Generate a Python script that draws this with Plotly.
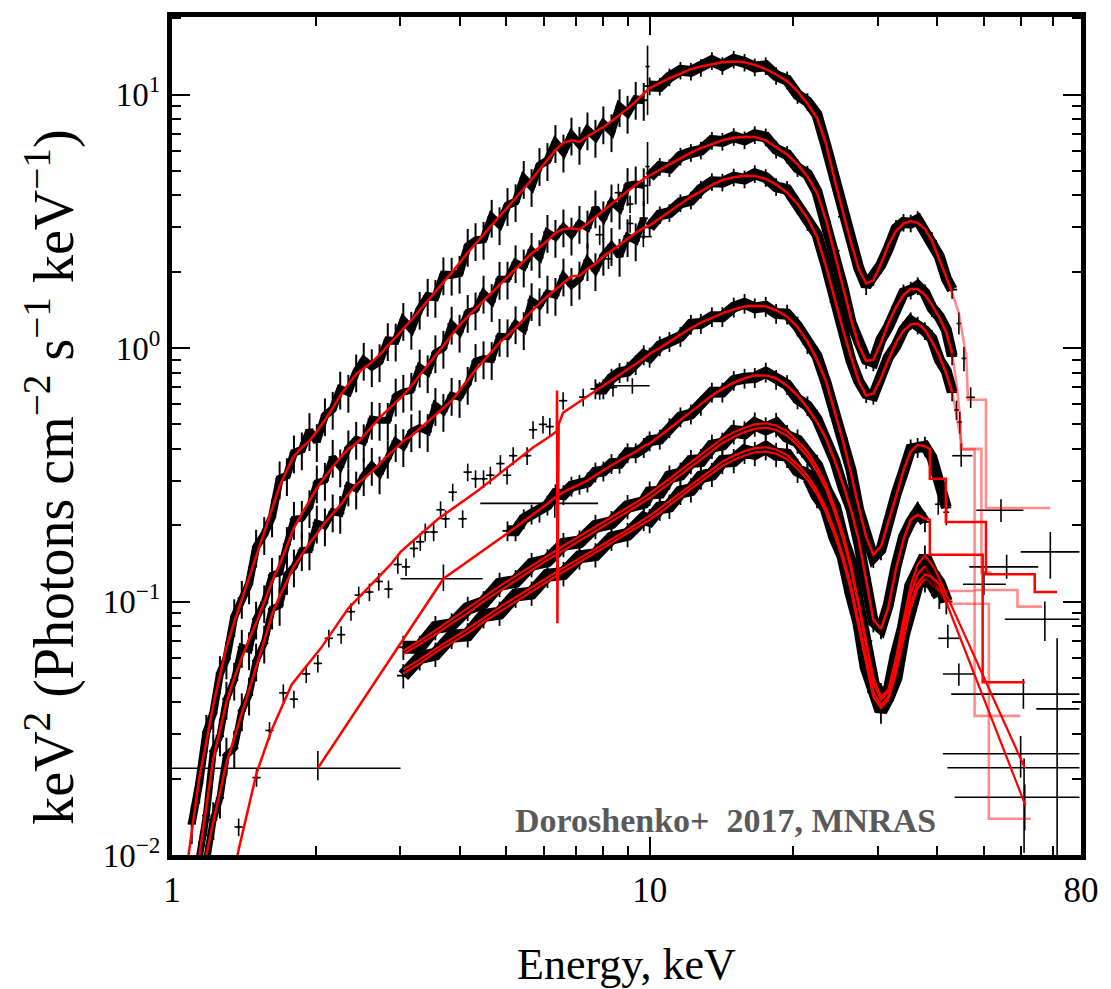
import math
import plotly.graph_objects as go

# ---------------- energy grids (keV) ----------------
E_soft = [1.10, 1.14, 1.18, 1.22, 1.26, 1.30, 1.35, 1.40, 1.45, 1.50, 1.56, 1.62, 1.68, 1.74, 1.80,
          1.87, 1.94, 2.01, 2.09, 2.17, 2.25, 2.34, 2.43, 2.52, 2.62, 2.72, 2.83, 2.94, 3.05, 3.17,
          3.30, 3.43, 3.56, 3.70, 3.85, 4.00, 4.16, 4.32, 4.49, 4.67, 4.85, 5.04, 5.24, 5.45, 5.66,
          5.88, 6.11, 6.35, 6.60, 6.86, 7.13, 7.41, 7.70, 8.00, 8.32, 8.65, 8.99, 9.35, 9.72]
E_hard = [10.0, 10.5, 11.0, 11.6, 12.2, 12.8, 13.5, 14.2, 15.0, 15.8, 16.6, 17.5, 18.4, 19.4, 20.4,
          21.4, 22.4, 23.4, 24.4, 25.4, 26.4, 27.4, 28.4, 29.4, 30.5, 31.6, 32.8, 34.0, 35.2, 36.4,
          37.7, 39.0, 40.4, 41.8, 43.0]
E_bot_soft = [3.05, 3.30, 3.56, 3.85, 4.16, 4.49, 4.85, 5.24, 5.66, 6.11, 6.60, 7.13, 7.70, 8.32, 8.99, 9.72]

# ---------------- spectrum 1 (top) ----------------
m1_soft = [0.0125, 0.020, 0.028, 0.039, 0.051, 0.066, 0.083, 0.102, 0.125, 0.152, 0.19, 0.235, 0.285, 0.33, 0.375,
           0.405, 0.43, 0.47, 0.52, 0.58, 0.65, 0.72, 0.79, 0.83, 0.88, 0.94, 1.02, 1.10, 1.18, 1.29,
           1.41, 1.54, 1.67, 1.82, 1.98, 2.17, 2.38, 2.58, 2.80, 3.04, 3.30, 3.58, 3.90, 4.25, 4.62,
           5.05, 5.55, 6.05, 6.45, 6.6, 6.5, 6.85, 7.15, 7.45, 7.85, 8.3, 8.8, 9.4, 10.1]
d1_soft = [0.0133, 0.0192, 0.0305, 0.0363, 0.052, 0.0594, 0.0872, 0.103, 0.1175, 0.164, 0.184, 0.216, 0.305, 0.314, 0.386,
           0.397, 0.473, 0.428, 0.541, 0.574, 0.689, 0.67, 0.806, 0.896, 0.845, 0.884, 1.071, 1.067, 1.286, 1.187,
           1.424, 1.602, 1.587, 1.947, 1.94, 1.975, 2.523, 2.657, 2.688, 3.283, 3.069, 3.652, 3.783, 4.675, 4.343,
           5.252, 5.495, 6.474, 5.934, 6.93, 6.37, 7.261, 6.793, 7.674, 7.144, 8.964, 8.448, 9.588, 9.494]
m1_hard = [10.6, 11.1, 11.6, 12.1, 12.6, 12.9, 13.2, 13.4, 13.5, 13.4, 13.1, 12.6, 12.0, 11.3, 10.3,
           9.2, 8.1, 6.4, 4.6, 3.4, 2.6, 2.05, 1.8, 1.85, 2.15, 2.55, 2.9, 3.1, 3.17, 3.12,
           2.95, 2.65, 2.25, 1.9, 1.65]
d1_hard = [10.81, 10.77, 11.72, 12.46, 12.35, 12.77, 13.6, 13.0, 13.77, 13.4, 12.84, 12.98, 11.88, 11.41, 9.99,
           9.38, 8.34, 6.27, 4.6, 3.3, 2.65, 2.07, 1.76, 1.91, 2.13, 2.47, 2.96, 3.13, 3.11, 3.21,
           2.86, 2.65, 2.3, 1.88, 1.7]
m1_start = (1.07, 0.0085)
m1_tail_E = [43.0, 44.4, 46.0, 46.4, 50.6, 50.6, 69.0]
m1_tail_F = [1.65, 1.37, 0.93, 0.625, 0.625, 0.234, 0.234]

# ---------------- spectrum 2 ----------------
m2_soft = [0.010, 0.0155, 0.024, 0.031, 0.040, 0.05, 0.06, 0.071, 0.082, 0.10, 0.12, 0.14, 0.165, 0.195, 0.222,
           0.25, 0.28, 0.31, 0.34, 0.37, 0.40, 0.42, 0.45, 0.49, 0.53, 0.57, 0.61, 0.65, 0.71, 0.78,
           0.86, 0.94, 1.03, 1.13, 1.23, 1.33, 1.43, 1.54, 1.66, 1.78, 1.91, 2.05, 2.2, 2.36, 2.5,
           2.65, 2.85, 2.95, 2.97, 2.93, 3.1, 3.28, 3.48, 3.7, 3.93, 4.17, 4.4, 4.65]
d2_soft = [0.0097, 0.0143, 0.0257, 0.0295, 0.0412, 0.049, 0.066, 0.0646, 0.0853, 0.099, 0.127, 0.130, 0.168, 0.211, 0.213,
           0.235, 0.294, 0.301, 0.371, 0.340, 0.404, 0.437, 0.4275, 0.524, 0.519, 0.519, 0.647, 0.67, 0.682, 0.842,
           0.80, 0.959, 0.999, 1.243, 1.156, 1.383, 1.416, 1.648, 1.527, 1.869, 1.872, 2.173, 2.09, 2.431, 2.275,
           2.862, 2.736, 3.009, 2.792, 3.106, 2.976, 3.575, 3.236, 3.774, 3.537, 4.379, 4.444, 4.371]
m2_hard = [4.78, 5.05, 5.3, 5.6, 5.9, 6.15, 6.4, 6.6, 6.75, 6.82, 6.8, 6.6, 6.2, 5.8, 5.3,
           4.75, 4.1, 3.2, 2.35, 1.75, 1.3, 1.02, 0.89, 0.9, 1.05, 1.25, 1.45, 1.62, 1.71, 1.71,
           1.62, 1.48, 1.32, 1.15, 0.95]
d2_hard = [4.73, 5.2, 5.14, 5.71, 5.9, 6.03, 6.59, 6.53, 6.82, 6.62, 6.94, 6.8, 6.08, 5.8, 5.14,
           4.85, 4.14, 3.14, 2.42, 1.73, 1.26, 1.04, 0.9, 0.88, 1.08, 1.21, 1.45, 1.65, 1.69, 1.76,
           1.65, 1.44, 1.33, 1.18, 0.93]
m2_start = (1.12, 0.0078)
m2_tail_E = [43.0, 44.0, 44.8, 44.8, 47.9, 47.9, 58.9, 58.9, 66.3]
m2_tail_F = [0.95, 0.7, 0.5, 0.398, 0.398, 0.111, 0.111, 0.0955, 0.0955]

# ---------------- spectrum 3 ----------------
m3_soft = [0.010, 0.0135, 0.0175, 0.023, 0.029, 0.036, 0.045, 0.055, 0.070, 0.089, 0.105, 0.12, 0.138, 0.153, 0.17,
           0.185, 0.205, 0.222, 0.24, 0.265, 0.29, 0.305, 0.325, 0.35, 0.375, 0.40, 0.43, 0.45, 0.48, 0.51,
           0.545, 0.58, 0.62, 0.68, 0.75, 0.82, 0.89, 0.97, 1.05, 1.12, 1.2, 1.3, 1.4, 1.5, 1.6,
           1.7, 1.8, 1.92, 1.93, 2.05, 2.15, 2.3, 2.42, 2.56, 2.7, 2.85, 2.98]
d3_soft = [0.0094, 0.0138, 0.0168, 0.0248, 0.0264, 0.0371, 0.0428, 0.0583, 0.0686, 0.0935, 0.0966, 0.128, 0.137, 0.159, 0.160,
           0.204, 0.199, 0.226, 0.223, 0.286, 0.278, 0.314, 0.345, 0.319, 0.368, 0.428, 0.409, 0.468, 0.485, 0.469,
           0.594, 0.563, 0.651, 0.639, 0.72, 0.886, 0.908, 0.902, 1.113, 1.109, 1.248, 1.183, 1.54, 1.47, 1.648,
           1.615, 1.926, 1.766, 1.872, 2.214, 2.021, 2.323, 2.541, 2.304, 2.754, 2.651, 3.248]
m3_hard = [3.05, 3.25, 3.45, 3.7, 3.95, 4.15, 4.4, 4.6, 4.72, 4.78, 4.77, 4.65, 4.42, 4.1, 3.7,
           3.25, 2.75, 2.1, 1.55, 1.18, 0.92, 0.74, 0.65, 0.66, 0.76, 0.9, 1.05, 1.17, 1.24, 1.25,
           1.18, 1.06, 0.93, 0.79, 0.67]
d3_hard = [2.99, 3.35, 3.42, 3.74, 3.83, 4.23, 4.53, 4.51, 4.72, 4.64, 4.87, 4.7, 4.33, 4.22, 3.66,
           3.15, 2.81, 2.12, 1.52, 1.22, 0.89, 0.74, 0.66, 0.65, 0.78, 0.92, 1.02, 1.18, 1.28, 1.23,
           1.17, 1.09, 0.9, 0.81, 0.67]
m3_start = (1.16, 0.0078)
m3_tail_E = [43.0, 44.6, 45.2, 49.5, 49.5, 52.0]
m3_tail_F = [0.67, 0.45, 0.40, 0.40, 0.13, 0.13]

# ---------------- spectrum 4 ----------------
m4_low_E = [1.36, 1.379, 1.503, 1.615, 1.78, 2.05, 2.34, 2.87, 3.01, 3.6, 4.38, 5.0, 5.7, 6.2, 6.39,
            6.40, 6.41, 6.45, 6.59, 7.0, 7.70, 8.00, 8.32, 8.65, 8.99, 9.35, 9.72]
m4_low_F = [0.0092, 0.0105, 0.021, 0.031, 0.047, 0.0655, 0.094, 0.14, 0.157, 0.211, 0.275, 0.335, 0.405, 0.45, 0.47,
            0.68, 0.082, 0.50, 0.556, 0.6, 0.677, 0.71, 0.748, 0.785, 0.826, 0.87, 0.91]
m4_hard = [0.95, 1.0, 1.06, 1.13, 1.2, 1.26, 1.32, 1.37, 1.42, 1.46, 1.47, 1.46, 1.41, 1.33, 1.21,
           1.06, 0.9, 0.74, 0.56, 0.43, 0.32, 0.235, 0.18, 0.153, 0.165, 0.205, 0.26, 0.33, 0.39, 0.415,
           0.41]
m4_tail_E = [38.6, 38.6, 41.7, 41.7, 50.6, 50.6, 64.0, 64.0, 71.3]
m4_tail_F = [0.40, 0.305, 0.305, 0.206, 0.206, 0.128, 0.128, 0.109, 0.109]
d4_sparse_E = [1.379, 1.503, 1.60, 1.71, 1.80, 1.91, 2.02, 2.13, 2.26, 2.37, 2.46, 2.59, 2.71, 2.84, 2.97,
               3.09, 3.21, 3.31, 3.39, 3.53, 3.65, 3.74, 3.87, 4.06, 4.16, 4.32, 4.49, 4.64, 4.87, 5.03,
               5.18, 5.54, 5.70, 5.98, 6.18, 6.59, 7.26, 7.86, 8.38]
d4_sparse_F = [0.0129, 0.0202, 0.031, 0.0436, 0.0412, 0.0518, 0.057, 0.0716, 0.074, 0.0912, 0.106, 0.109, 0.12, 0.112, 0.14,
               0.137, 0.162, 0.172, 0.188, 0.188, 0.23, 0.212, 0.27, 0.212, 0.324, 0.305, 0.305, 0.315, 0.35, 0.315,
               0.376, 0.376, 0.476, 0.5, 0.49, 0.62, 0.64, 0.68, 0.70]
d4_dense_E_low = [7.70, 8.00, 8.32, 8.65, 8.99, 9.35, 9.72]
d4_dense_F_low = [0.69, 0.69, 0.76, 0.80, 0.81, 0.86, 0.94]
d4_hard = [0.92, 1.02, 1.06, 1.11, 1.24, 1.25, 1.33, 1.33, 1.45, 1.5, 1.44, 1.46, 1.37, 1.36, 1.22,
           1.04, 0.93, 0.73, 0.54, 0.44, 0.33, 0.23, 0.185, 0.149, 0.16, 0.209, 0.265, 0.325, 0.40, 0.405,
           0.41, 0.37, 0.30, 0.235]

# ---------------- spectrum 5 ----------------
m5_low_E = [2.02, 3.7, 5.04, 5.24, 5.45, 5.66, 5.88, 6.11, 6.35, 6.60, 6.86, 7.13, 7.41, 7.70, 8.00,
            8.32, 8.65, 8.99, 9.35, 9.72]
m5_low_F = [0.022, 0.123, 0.186, 0.196, 0.207, 0.218, 0.23, 0.243, 0.258, 0.27, 0.28, 0.29, 0.30, 0.315, 0.33,
            0.345, 0.36, 0.375, 0.39, 0.41]
m5_hard = [0.42, 0.45, 0.48, 0.52, 0.56, 0.6, 0.65, 0.69, 0.73, 0.76, 0.78, 0.78, 0.76, 0.71, 0.65,
           0.58, 0.51, 0.44, 0.36, 0.29, 0.23, 0.175, 0.12, 0.085, 0.078, 0.095, 0.135, 0.175, 0.21, 0.22,
           0.212]
m5_tail_E = [38.6, 38.6, 49.8, 49.8, 61.0]
m5_tail_F = [0.21, 0.153, 0.153, 0.048, 0.048]
d5_low_E = [5.04, 5.24, 5.45, 5.66, 5.88, 6.11, 6.35, 6.60, 6.86, 7.13, 7.41, 7.70, 8.00, 8.32, 8.65,
            8.99, 9.35, 9.72]
d5_low_F = [0.19, 0.19, 0.212, 0.221, 0.225, 0.24, 0.266, 0.264, 0.285, 0.29, 0.296, 0.324, 0.327, 0.35, 0.351,
            0.386, 0.386, 0.405]
d5_hard = [0.43, 0.437, 0.485, 0.535, 0.549, 0.594, 0.669, 0.67, 0.745, 0.76, 0.765, 0.803, 0.752, 0.717, 0.63,
           0.592, 0.525, 0.431, 0.36, 0.281, 0.232, 0.17, 0.123, 0.083, 0.078, 0.097, 0.138, 0.18, 0.206, 0.227,
           0.206]

# ---------------- bottom group (4 spectra) ----------------
m6a_soft = [0.064, 0.070, 0.077, 0.085, 0.094, 0.104, 0.115, 0.126, 0.139, 0.152, 0.166, 0.181, 0.197, 0.215, 0.235, 0.257]
m6a_hard = [0.267, 0.285, 0.305, 0.33, 0.355, 0.38, 0.41, 0.44, 0.465, 0.485, 0.5, 0.505, 0.495, 0.47, 0.43,
            0.39, 0.34, 0.29, 0.235, 0.185, 0.14, 0.10, 0.07, 0.05, 0.042, 0.045, 0.06, 0.085, 0.115, 0.14, 0.152]
m6a_tail_E = [39.5, 61.0]
m6a_tail_F = [0.135, 0.0221]
m6b_soft = [0.062, 0.068, 0.074, 0.082, 0.090, 0.10, 0.11, 0.121, 0.133, 0.146, 0.159, 0.174, 0.19, 0.207, 0.226, 0.247]
m6b_hard = [0.256, 0.274, 0.293, 0.317, 0.341, 0.365, 0.394, 0.422, 0.446, 0.466, 0.48, 0.485, 0.475, 0.451, 0.413,
            0.374, 0.326, 0.278, 0.225, 0.177, 0.134, 0.096, 0.067, 0.048, 0.041, 0.044, 0.058, 0.08, 0.107, 0.128, 0.138]
m6b_tail_E = [41.9, 51.3, 51.3, 62.8]
m6b_tail_F = [0.098, 0.098, 0.0139, 0.0139]
m6c_soft = [0.054, 0.059, 0.065, 0.071, 0.078, 0.086, 0.095, 0.104, 0.114, 0.125, 0.136, 0.148, 0.161, 0.176, 0.192, 0.211]
m6c_hard = [0.218, 0.233, 0.249, 0.269, 0.289, 0.309, 0.333, 0.356, 0.376, 0.392, 0.403, 0.406, 0.398, 0.378, 0.347,
            0.314, 0.275, 0.234, 0.19, 0.151, 0.115, 0.083, 0.059, 0.044, 0.039, 0.042, 0.054, 0.074, 0.098, 0.118, 0.128]
m6c_tail_E = [39.0, 40.4, 61.2]
m6c_tail_F = [0.125, 0.117, 0.0157]
m6d_soft = [0.052, 0.057, 0.063, 0.069, 0.075, 0.083, 0.091, 0.10, 0.11, 0.12, 0.131, 0.143, 0.155, 0.17, 0.185, 0.203]
m6d_hard = [0.21, 0.224, 0.24, 0.259, 0.278, 0.297, 0.32, 0.343, 0.362, 0.377, 0.388, 0.39, 0.383, 0.364, 0.334,
            0.302, 0.265, 0.225, 0.183, 0.145, 0.11, 0.08, 0.057, 0.042, 0.038, 0.041, 0.052, 0.071, 0.094, 0.113, 0.123]
m6d_tail_E = [40.4, 47.9, 47.9, 59.7]
m6d_tail_F = [0.11, 0.11, 0.0354, 0.0354]
dbU_soft = [0.066, 0.066, 0.079, 0.081, 0.094, 0.099, 0.117, 0.12, 0.14, 0.145, 0.168, 0.172, 0.198, 0.205, 0.237, 0.246]
dbU_hard = [0.268, 0.27, 0.31, 0.318, 0.357, 0.36, 0.41, 0.418, 0.468, 0.463, 0.502, 0.48, 0.5, 0.448, 0.43,
            0.372, 0.342, 0.275, 0.236, 0.174, 0.141, 0.094, 0.07, 0.047, 0.043, 0.043, 0.061, 0.079, 0.115, 0.128,
            0.15, 0.13, 0.118, 0.1]
dbL_soft = [0.051, 0.06, 0.062, 0.073, 0.074, 0.088, 0.09, 0.106, 0.108, 0.127, 0.129, 0.15, 0.153, 0.178, 0.184, 0.213]
dbL_hard = [0.209, 0.234, 0.238, 0.27, 0.276, 0.31, 0.318, 0.357, 0.36, 0.392, 0.384, 0.405, 0.381, 0.378, 0.33,
            0.315, 0.262, 0.234, 0.18, 0.151, 0.108, 0.083, 0.055, 0.044, 0.037, 0.042, 0.05, 0.074, 0.092, 0.118,
            0.122, 0.118, 0.105]

# ---------------- individual wide-bin points (E, F, E_lo, E_hi, F_lo, F_hi) ----------------
pt_E   = [54.4, 69.0, 55.9, 50.1, 67.2, 71.3, 60.6, 59.8, 60.8, 61.0, 44.4, 42.1, 44.9, 47.0, 41.8, 40.2,
          44.4, 45.5, 44.6, 43.9, 9.2, 9.9, 9.9, 9.7, 9.1, 9.1, 8.6, 7.86, 8.2, 2.02, 3.7, 6.33]
pt_F   = [0.229, 0.157, 0.137, 0.117, 0.0851, 0.0377, 0.0431, 0.0251, 0.0221, 0.0169, 0.0518, 0.0716, 0.376, 0.639, 0.225, 0.242,
          1.25, 0.91, 0.51, 0.57, 0.71, 12.9, 5.2, 2.75, 3.7, 3.1, 4.1, 2.8, 2.25, 0.022, 0.123, 0.244]
pt_Elo = [48.3, 59.8, 46.7, 45.3, 55.4, 64.5, 42.8, 41.1, 42.0, 43.5, 41.1, 40.2, 43.0, 46.0, 41.2, 39.6,
          43.9, 45.0, 44.1, 43.4, 8.4, 9.8, 9.8, 9.2, 8.95, 8.95, 8.45, 7.7, 8.05, 1.0, 3.01, 4.42]
pt_Ehi = [60.6, 79.4, 65.1, 55.7, 79.4, 79.4, 79.4, 79.4, 79.4, 79.4, 47.9, 44.5, 47.4, 48.0, 42.4, 40.8,
          44.9, 46.0, 45.1, 44.4, 10.0, 10.0, 10.0, 10.1, 9.25, 9.25, 8.75, 8.0, 8.35, 3.01, 4.47, 7.8]
pt_Flo = [0.206, 0.123, 0.123, 0.106, 0.0698, 0.005, 0.0377, 0.0202, 0.0102, 0.0125, 0.0465, 0.0655, 0.34, 0.58, 0.20, 0.22,
          1.13, 0.81, 0.46, 0.52, 0.66, 8.3, 3.7, 2.5, 3.4, 2.85, 3.75, 2.55, 2.05, 0.0197, 0.11, 0.214]
pt_Fhi = [0.253, 0.188, 0.153, 0.131, 0.10, 0.0716, 0.0495, 0.0295, 0.024, 0.019, 0.057, 0.081, 0.42, 0.70, 0.25, 0.265,
          1.38, 1.01, 0.56, 0.62, 0.76, 15.6, 6.5, 3.0, 4.0, 3.35, 4.45, 3.05, 2.45, 0.0257, 0.14, 0.277]

SERIF = "Liberation Serif"
RED = "#ff0000"
FAINT = "rgba(255,0,0,0.45)"

fig = go.Figure()


def data_trace(E, F, ypct, xpct, band=0, thick=1.8):
    mode = "lines+markers" if band else "markers"
    return go.Scatter(
        x=E, y=F, mode=mode, hoverinfo="skip",
        line=dict(color="black", width=band if band else 1),
        marker=dict(size=3, color="black"),
        error_y=dict(type="percent", value=ypct, width=0, thickness=thick, color="black"),
        error_x=dict(type="percent", value=xpct, width=0, thickness=thick, color="black"),
    )


def line_trace(E, F, color=RED, width=2.5):
    return go.Scatter(x=E, y=F, mode="lines", hoverinfo="skip",
                      line=dict(color=color, width=width))


# data (black crosses)
fig.add_trace(data_trace(E_soft, d1_soft, 17, 2.0, band=8, thick=2.0))
fig.add_trace(data_trace(E_hard, d1_hard, 8, 2.4, band=11))
fig.add_trace(data_trace(E_soft[1:], d2_soft, 17, 2.0, band=7, thick=2.0))
fig.add_trace(data_trace(E_hard, d2_hard, 8, 2.4, band=11))
fig.add_trace(data_trace(E_soft[2:], d3_soft, 17, 2.0, band=7, thick=2.0))
fig.add_trace(data_trace(E_hard, d3_hard, 8, 2.4, band=11))
fig.add_trace(data_trace(d4_sparse_E, d4_sparse_F, 8, 2.0, thick=1.6))
fig.add_trace(data_trace(d4_dense_E_low + E_hard[:34], d4_dense_F_low + d4_hard, 9, 2.4, band=11))
fig.add_trace(data_trace(d5_low_E + E_hard[:31], d5_low_F + d5_hard, 9, 2.4, band=11))
fig.add_trace(data_trace(E_bot_soft + E_hard[:34], dbU_soft + dbU_hard, 11, 3.0, band=13))
fig.add_trace(data_trace(E_bot_soft + E_hard[:33], dbL_soft + dbL_hard, 11, 3.0, band=13))
fig.add_trace(go.Scatter(
    x=pt_E, y=pt_F, mode="markers", hoverinfo="skip",
    marker=dict(size=2, color="black"),
    error_x=dict(type="data", symmetric=False,
                 array=[h - e for h, e in zip(pt_Ehi, pt_E)],
                 arrayminus=[e - l for e, l in zip(pt_E, pt_Elo)],
                 width=0, thickness=1.6, color="black"),
    error_y=dict(type="data", symmetric=False,
                 array=[h - f for h, f in zip(pt_Fhi, pt_F)],
                 arrayminus=[f - l for f, l in zip(pt_F, pt_Flo)],
                 width=0, thickness=1.6, color="black"),
))

# faint model continuations
fig.add_trace(line_trace(m1_tail_E, m1_tail_F, FAINT, 2.6))
fig.add_trace(line_trace(m2_tail_E, m2_tail_F, FAINT, 2.6))
fig.add_trace(line_trace(m3_tail_E, m3_tail_F, FAINT, 2.6))
fig.add_trace(line_trace([37.7] + m6b_tail_E, [0.138] + m6b_tail_F, FAINT, 2.6))
fig.add_trace(line_trace([37.7] + m6d_tail_E, [0.123] + m6d_tail_F, FAINT, 2.6))

# models (red)
fig.add_trace(line_trace([m1_start[0]] + E_soft + E_hard, [m1_start[1]] + m1_soft + m1_hard))
fig.add_trace(line_trace([m2_start[0]] + E_soft[1:] + E_hard, [m2_start[1]] + m2_soft + m2_hard))
fig.add_trace(line_trace([m3_start[0]] + E_soft[2:] + E_hard, [m3_start[1]] + m3_soft + m3_hard))
fig.add_trace(line_trace(m4_low_E + E_hard[:31] + m4_tail_E, m4_low_F + m4_hard + m4_tail_F))
fig.add_trace(line_trace(m5_low_E + E_hard[:31] + m5_tail_E, m5_low_F + m5_hard + m5_tail_F))
fig.add_trace(line_trace(E_bot_soft + E_hard[:31] + m6a_tail_E, m6a_soft + m6a_hard + m6a_tail_F, RED, 2.2))
fig.add_trace(line_trace(E_bot_soft + E_hard[:31], m6b_soft + m6b_hard, RED, 2.2))
fig.add_trace(line_trace(E_bot_soft + E_hard[:31] + m6c_tail_E, m6c_soft + m6c_hard + m6c_tail_F, RED, 2.2))
fig.add_trace(line_trace(E_bot_soft + E_hard[:31], m6d_soft + m6d_hard, RED, 2.2))

x_minor = [2, 3, 4, 5, 6, 7, 8, 9, 20, 30, 40, 50, 60, 70]
y_minor = [0.02, 0.03, 0.04, 0.05, 0.06, 0.07, 0.08, 0.09,
           0.2, 0.3, 0.4, 0.5, 0.6, 0.7, 0.8, 0.9,
           2, 3, 4, 5, 6, 7, 8, 9, 20]

fig.update_layout(
    width=1111, height=989,
    margin=dict(l=172, r=25, t=12, b=134),
    paper_bgcolor="white", plot_bgcolor="white",
    showlegend=False,
    font=dict(family=SERIF, color="black"),
    xaxis=dict(
        type="log", range=[0, math.log10(80)],
        tickmode="array", tickvals=[1, 10, 80], ticktext=["1", "10", "80"],
        ticks="inside", ticklen=18, tickwidth=2, tickcolor="black",
        minor=dict(ticks="inside", ticklen=9, tickwidth=2, tickcolor="black", tickvals=x_minor),
        showline=True, linewidth=5, linecolor="black", mirror="allticks",
        showgrid=False, zeroline=False,
        tickfont=dict(family=SERIF, size=35, color="black"),
    ),
    yaxis=dict(
        type="log", range=[-2, 1.306],
        tickmode="array", tickvals=[0.01, 0.1, 1, 10],
        ticktext=["10<sup>\u22122</sup>", "10<sup>\u22121</sup>", "10<sup>0</sup>", "10<sup>1</sup>"],
        ticks="inside", ticklen=18, tickwidth=2, tickcolor="black",
        minor=dict(ticks="inside", ticklen=9, tickwidth=2, tickcolor="black", tickvals=y_minor),
        showline=True, linewidth=5, linecolor="black", mirror="allticks",
        showgrid=False, zeroline=False,
        tickfont=dict(family=SERIF, size=33, color="black"),
    ),
    annotations=[
        dict(text="keV<sup>2</sup> (Photons cm<sup>\u22122</sup> s<sup>\u22121</sup> keV<sup>\u22121</sup>)",
             xref="paper", yref="paper", x=-0.1335, y=0.451, textangle=-90,
             xanchor="center", yanchor="middle", showarrow=False,
             font=dict(family=SERIF, size=56, color="black")),
        dict(text="Energy, keV", xref="paper", yref="paper", x=0.5, y=-0.1305,
             xanchor="center", yanchor="middle", showarrow=False,
             font=dict(family=SERIF, size=44, color="black")),
        dict(text="<b>Doroshenko+\u00a0 2017, MNRAS</b>", xref="paper", yref="paper",
             x=0.609, y=0.0415, xanchor="center", yanchor="middle", showarrow=False,
             font=dict(family=SERIF, size=34, color="#5a5a5a")),
    ],
)

fig.write_html("out.html")
